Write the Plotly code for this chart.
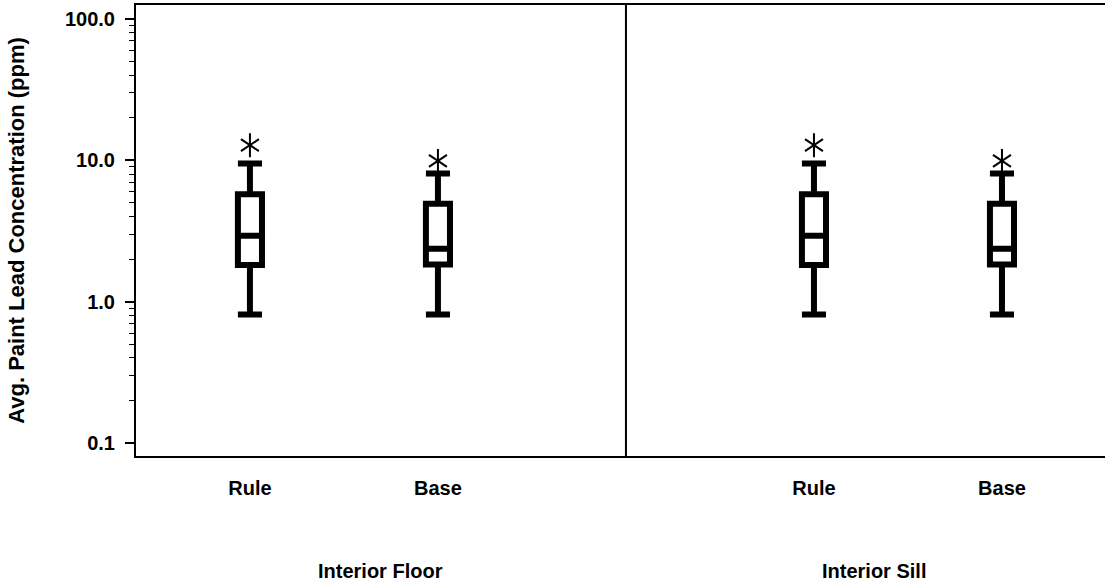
import plotly.graph_objects as go

# ---- data ----
groups = ["Interior Floor", "Interior Sill"]
categories = ["Rule", "Base", "Rule", "Base"]
positions = [1, 2, 4, 5]
lower_fence = [0.81, 0.81, 0.81, 0.81]
q1_vals = [1.82, 1.83, 1.82, 1.83]
median_vals = [2.93, 2.37, 2.93, 2.37]
q3_vals = [5.76, 4.92, 5.76, 4.92]
upper_fence = [9.5, 8.08, 9.5, 8.08]
outlier_x = [1, 2, 4, 5]
outlier_y = [12.8, 9.9, 12.8, 9.9]

y_ticks = [0.1, 1, 10, 100]
y_ticktext = ["0.1", "1.0", "10.0", "100.0"]
minor_ticks = [m * d for d in [0.1, 1, 10] for m in range(2, 10)]

FONT = "Liberation Sans, Arial, sans-serif"

fig = go.Figure()

fig.add_trace(go.Box(
    x=positions, q1=q1_vals, median=median_vals, q3=q3_vals,
    lowerfence=lower_fence, upperfence=upper_fence,
    width=0.128, whiskerwidth=1, boxpoints=False,
    line=dict(color="black", width=6), fillcolor="white",
    showlegend=False, hoverinfo="skip",
))

for sym in ["y-up-open", "y-down-open"]:
    fig.add_trace(go.Scatter(
        x=outlier_x, y=outlier_y, mode="markers",
        marker=dict(symbol=sym, size=15, color="black",
                    line=dict(color="black", width=2)),
        showlegend=False, hoverinfo="skip",
    ))

# divider between groups (midway between the two groups)
divider_x = (positions[1] + positions[2]) / 2
fig.add_shape(type="line", xref="x", yref="paper", x0=divider_x, x1=divider_x,
              y0=0, y1=1, line=dict(color="black", width=2))

group_x = [(0.394 + divider_x) / 2, 4.32]
for gx, g in zip(group_x, groups):
    fig.add_annotation(x=gx, xref="x", y=-0.254, yref="paper", text=g,
                       showarrow=False, yanchor="middle",
                       font=dict(family=FONT, size=20, color="black", weight="bold"))

fig.update_layout(
    width=1105, height=581,
    margin=dict(l=136, r=0, t=5, b=125),
    plot_bgcolor="white", paper_bgcolor="white",
    font=dict(family=FONT, color="black"),
    xaxis=dict(
        range=[0.394, 5.548], tickvals=positions, ticktext=categories,
        showline=True, linecolor="black", linewidth=2, mirror=True,
        ticks="", showgrid=False, zeroline=False,
        tickfont=dict(family=FONT, size=20, color="black", weight="bold"),
        ticklabelstandoff=13,
    ),
    yaxis=dict(
        type="log", range=[-1.092, 2.099],
        tickvals=y_ticks, ticktext=y_ticktext,
        ticks="outside", ticklen=9, tickwidth=1.5, tickcolor="black",
        minor=dict(ticks="outside", ticklen=5, tickwidth=1, tickcolor="black",
                   tickvals=minor_ticks, showgrid=False),
        showline=True, linecolor="black", linewidth=2,
        showgrid=False, zeroline=False,
        tickfont=dict(family=FONT, size=20, color="black", weight="bold"),
        ticklabelstandoff=6,
        title=dict(text="Avg. Paint Lead Concentration (ppm)", standoff=34,
                   font=dict(family=FONT, size=22, color="black", weight="bold")),
    ),
)

fig.write_html("out.html", config={"displayModeBar": False},
               post_script="document.body.style.margin='0';document.body.style.overflow='hidden';")
